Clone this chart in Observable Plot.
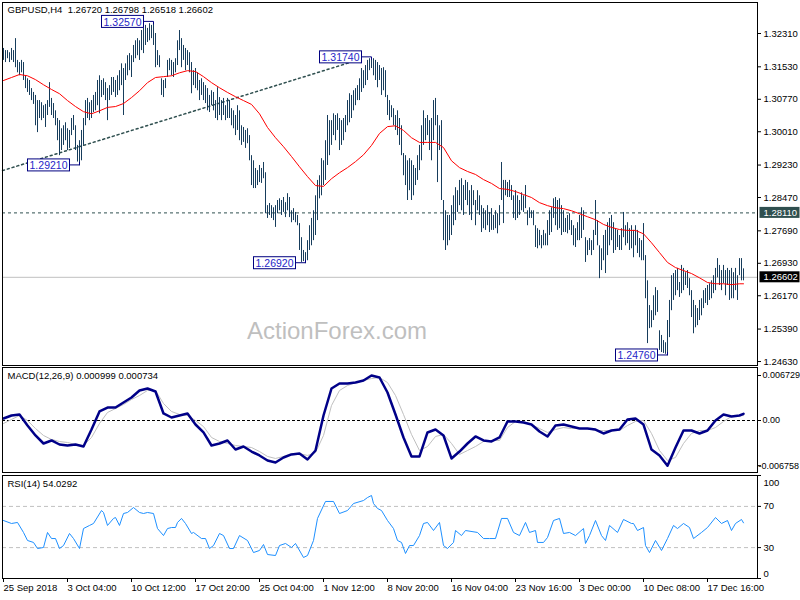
<!DOCTYPE html>
<html><head><meta charset="utf-8">
<script src="https://cdn.jsdelivr.net/npm/d3@7"></script>
<script src="https://cdn.jsdelivr.net/npm/@observablehq/plot@0.6"></script>
<style>
html,body{margin:0;padding:0;background:#fff;}
#chart{position:relative;width:800px;height:600px;overflow:hidden;background:#fff;}
#chart svg{position:absolute;left:0;}
</style></head><body><div id="chart"></div>
<script>
// ---------- DATA ----------
const barHigh = [1.3196,1.3191,1.3191,1.3186,1.3196,1.3191,1.3219,1.3168,1.3163,1.3168,
1.3163,1.3132,1.3125,1.3121,1.3102,1.3093,1.3086,1.3074,1.3074,1.3069,
1.3062,1.3065,1.3074,1.3116,1.3079,1.3067,1.3050,1.3032,1.3027,1.3008,
1.3015,1.3022,1.3008,1.3004,1.3032,1.3039,1.3015,1.2969,1.2980,1.3004,
1.3032,1.3074,1.3079,1.3069,1.3074,1.3086,1.3093,1.3121,1.3132,1.3121,
1.3125,1.3116,1.3102,1.3109,1.3128,1.3128,1.3121,1.3132,1.3144,1.3160,
1.3149,1.3160,1.3179,1.3184,1.3179,1.3203,1.3214,1.3219,1.3214,1.3238,
1.3243,1.3250,1.3243,1.3254,1.3250,1.3257,1.3231,1.3191,1.3179,1.3125,
1.3121,1.3125,1.3168,1.3172,1.3168,1.3163,1.3172,1.3214,1.3238,1.3219,
1.3203,1.3196,1.3191,1.3186,1.3163,1.3144,1.3149,1.3139,1.3121,1.3125,
1.3116,1.3109,1.3102,1.3086,1.3097,1.3093,1.3074,1.3104,1.3081,1.3074,
1.3079,1.3062,1.3079,1.3074,1.3055,1.3050,1.3039,1.3062,1.3050,1.3015,
1.3011,1.3004,1.3008,1.2992,1.2945,1.2933,1.2915,1.2910,1.2922,1.2915,
1.2929,1.2905,1.2828,1.2833,1.2828,1.2823,1.2828,1.2840,1.2844,1.2840,
1.2847,1.2835,1.2856,1.2847,1.2816,1.2821,1.2812,1.2805,1.2786,1.2753,
1.2723,1.2718,1.2746,1.2781,1.2798,1.2816,1.2851,1.2887,1.2898,1.2938,
1.2933,1.2980,1.3039,1.3027,1.3027,1.3043,1.3039,1.3043,1.3032,1.3027,
1.3032,1.3039,1.3074,1.3090,1.3086,1.3097,1.3102,1.3109,1.3125,1.3149,
1.3144,1.3156,1.3168,1.3172,1.3174,1.3172,1.3168,1.3163,1.3156,1.3149,
1.3151,1.3144,1.3086,1.3074,1.3062,1.3055,1.3039,1.3050,1.3032,1.3015,
1.2950,1.2945,1.2933,1.2938,1.2933,1.2922,1.2915,1.2945,1.2969,1.3015,
1.3050,1.3032,1.3039,1.3027,1.3032,1.3074,1.3079,1.3039,1.3015,1.3027,
1.2840,1.2816,1.2805,1.2805,1.2828,1.2851,1.2870,1.2863,1.2887,1.2891,
1.2875,1.2887,1.2882,1.2863,1.2875,1.2863,1.2840,1.2863,1.2851,1.2828,
1.2821,1.2816,1.2828,1.2812,1.2821,1.2805,1.2816,1.2809,1.2828,1.2929,
1.2887,1.2887,1.2882,1.2887,1.2875,1.2851,1.2863,1.2851,1.2840,1.2858,
1.2851,1.2875,1.2816,1.2823,1.2816,1.2816,1.2781,1.2774,1.2770,1.2758,
1.2770,1.2762,1.2793,1.2816,1.2823,1.2844,1.2847,1.2840,1.2844,1.2828,
1.2816,1.2798,1.2805,1.2809,1.2793,1.2781,1.2774,1.2788,1.2805,1.2823,
1.2816,1.2753,1.2746,1.2751,1.2746,1.2770,1.2840,1.2793,1.2734,1.2727,
1.2758,1.2770,1.2788,1.2798,1.2805,1.2788,1.2774,1.2770,1.2758,1.2774,
1.2812,1.2781,1.2788,1.2774,1.2781,1.2770,1.2781,1.2770,1.2751,1.2746,
1.2786,1.2711,1.2652,1.2594,1.2582,1.2617,1.2636,1.2629,1.2535,1.2524,
1.2512,1.2507,1.2559,1.2606,1.2664,1.2669,1.2676,1.2681,1.2648,1.2688,
1.2681,1.2671,1.2676,1.2657,1.2629,1.2606,1.2594,1.2587,1.2606,1.2610,
1.2629,1.2634,1.2641,1.2645,1.2652,1.2664,1.2681,1.2704,1.2688,1.2676,
1.2688,1.2676,1.2681,1.2676,1.2681,1.2671,1.2681,1.2664,1.2704,1.2704,1.2680];

const barLow = [1.3168,1.3163,1.3172,1.3163,1.3168,1.3163,1.3151,1.3139,1.3132,1.3139,
1.3121,1.3102,1.3093,1.3086,1.3074,1.3065,1.3015,1.2999,1.3032,1.3027,
1.3032,1.3011,1.3039,1.3058,1.3039,1.3032,1.3015,1.2980,1.2945,1.2957,
1.2969,1.2980,1.2957,1.2962,1.2992,1.3004,1.2957,1.2930,1.2921,1.2933,
1.2969,1.3015,1.3032,1.3027,1.3032,1.3046,1.3050,1.3062,1.3043,1.3081,
1.3086,1.3074,1.3027,1.3074,1.3086,1.3093,1.3081,1.3086,1.3097,1.3109,
1.3039,1.3121,1.3132,1.3144,1.3128,1.3163,1.3172,1.3179,1.3168,1.3191,
1.3184,1.3203,1.3210,1.3214,1.3219,1.3203,1.3151,1.3156,1.3151,1.3086,
1.3081,1.3102,1.3128,1.3144,1.3132,1.3128,1.3139,1.3156,1.3191,1.3151,
1.3168,1.3144,1.3156,1.3139,1.3090,1.3109,1.3102,1.3097,1.3074,1.3086,
1.3074,1.3067,1.3050,1.3046,1.3062,1.3050,1.3032,1.3027,1.3039,1.3027,
1.3039,1.3027,1.3032,1.3032,1.3015,1.3008,1.2992,1.3004,1.2980,1.2969,
1.2976,1.2962,1.2973,1.2933,1.2875,1.2868,1.2868,1.2875,1.2882,1.2880,
1.2891,1.2809,1.2798,1.2805,1.2798,1.2793,1.2777,1.2809,1.2816,1.2805,
1.2812,1.2800,1.2816,1.2800,1.2788,1.2793,1.2788,1.2781,1.2723,1.2695,
1.2697,1.2692,1.2699,1.2723,1.2734,1.2746,1.2758,1.2793,1.2844,1.2851,
1.2875,1.2887,1.2922,1.2945,1.2969,1.2992,1.2980,1.3004,1.2957,1.2969,
1.2980,1.2999,1.3015,1.3022,1.3032,1.3050,1.3062,1.3074,1.3074,1.3093,
1.3102,1.3109,1.3121,1.3144,1.3149,1.3132,1.3121,1.3104,1.3121,1.3086,
1.3097,1.3081,1.3039,1.3027,1.3034,1.3015,1.3004,1.2992,1.2969,1.2945,
1.2898,1.2875,1.2840,1.2863,1.2840,1.2851,1.2875,1.2887,1.2910,1.2933,
1.2969,1.2980,1.2992,1.2957,1.2933,1.2980,1.3015,1.2882,1.2957,1.2840,
1.2746,1.2723,1.2734,1.2746,1.2758,1.2781,1.2793,1.2812,1.2828,1.2816,
1.2805,1.2840,1.2828,1.2805,1.2793,1.2828,1.2781,1.2816,1.2805,1.2765,
1.2774,1.2770,1.2781,1.2765,1.2770,1.2770,1.2774,1.2762,1.2781,1.2840,
1.2786,1.2851,1.2847,1.2847,1.2840,1.2798,1.2793,1.2798,1.2805,1.2816,
1.2812,1.2821,1.2781,1.2798,1.2798,1.2781,1.2730,1.2727,1.2734,1.2727,
1.2734,1.2734,1.2734,1.2758,1.2765,1.2798,1.2781,1.2770,1.2774,1.2758,
1.2765,1.2765,1.2762,1.2770,1.2758,1.2734,1.2730,1.2746,1.2746,1.2751,
1.2770,1.2695,1.2711,1.2723,1.2711,1.2723,1.2758,1.2734,1.2657,1.2676,
1.2699,1.2669,1.2711,1.2734,1.2746,1.2716,1.2723,1.2730,1.2723,1.2723,
1.2753,1.2734,1.2739,1.2723,1.2727,1.2706,1.2734,1.2716,1.2706,1.2699,
1.2699,1.2610,1.2505,1.2540,1.2542,1.2559,1.2570,1.2578,1.2489,1.2484,
1.2482,1.2480,1.2476,1.2519,1.2582,1.2606,1.2617,1.2629,1.2613,1.2622,
1.2629,1.2641,1.2634,1.2617,1.2566,1.2528,1.2542,1.2547,1.2559,1.2570,
1.2587,1.2599,1.2594,1.2606,1.2610,1.2622,1.2629,1.2659,1.2641,1.2629,
1.2645,1.2617,1.2641,1.2606,1.2610,1.2610,1.2629,1.2606,1.2664,1.2652,1.2652];

// bar positions at which the indicator lines were read
const indBar = [0,4,8,12,16,20,24,28,32,36,40,44,48,52,56,60,64,68,72,76,80,84,88,92,96,100,104,108,112,116,
120,124,128,132,136,140,144,148,152,156,160,164,168,172,176,180,184,188,192,196,200,204,208,212,216,220,224,228,232,236,
240,244,248,252,256,260,264,268,272,276,280,284,288,292,296,300,304,308,312,316,320,324,328,332,336,340,344,348,352,356,
360,364,368,370];

const maVal = [1.3121,1.3128,1.3135,1.3132,1.3123,1.3111,1.3100,1.3090,1.3074,1.3060,
1.3048,1.3043,1.3050,1.3058,1.3060,1.3067,1.3081,1.3097,1.3116,1.3128,
1.3130,1.3132,1.3139,1.3144,1.3142,1.3130,1.3116,1.3104,1.3093,1.3083,
1.3074,1.3065,1.3043,1.3011,1.2987,1.2966,1.2943,1.2919,1.2896,1.2875,
1.2873,1.2891,1.2905,1.2917,1.2931,1.2947,1.2969,1.2997,1.3013,1.3015,
1.3004,1.2987,1.2976,1.2976,1.2976,1.2964,1.2933,1.2917,1.2908,1.2901,
1.2889,1.2880,1.2868,1.2866,1.2861,1.2854,1.2847,1.2835,1.2828,1.2823,
1.2821,1.2816,1.2809,1.2802,1.2795,1.2784,1.2777,1.2772,1.2770,1.2770,
1.2762,1.2741,1.2718,1.2695,1.2683,1.2676,1.2669,1.2659,1.2648,1.2645,
1.2645,1.2643,1.2645,1.2645];

const macdMain = [0.00030,0.00075,0.00090,-0.00075,-0.00224,-0.00344,-0.00299,-0.00359,-0.00374,-0.00359,
-0.00389,-0.00135,0.00135,0.00194,0.00194,0.00269,0.00344,0.00449,0.00479,0.00434,
0.00105,0.00045,0.00075,0.00105,-0.00060,-0.00179,-0.00374,-0.00344,-0.00299,-0.00434,
-0.00389,-0.00464,-0.00523,-0.00598,-0.00628,-0.00553,-0.00508,-0.00494,-0.00583,-0.00449,
0.00075,0.00479,0.00553,0.00553,0.00568,0.00598,0.00673,0.00643,0.00419,0.00090,
-0.00254,-0.00538,-0.00538,-0.00179,-0.00135,-0.00224,-0.00568,-0.00464,-0.00344,-0.00239,
-0.00299,-0.00314,-0.00254,-0.00015,-0.00015,-0.00030,-0.00060,-0.00164,-0.00239,-0.00075,
-0.00060,-0.00090,-0.00120,-0.00120,-0.00135,-0.00194,-0.00150,-0.00135,0.00015,0.00030,
-0.00060,-0.00434,-0.00523,-0.00676,-0.00404,-0.00150,-0.00150,-0.00194,-0.00150,0.00000,
0.00090,0.00060,0.00075,0.000999];

const macdSignal = [-0.00045,0.00015,0.00075,0.00000,-0.00120,-0.00224,-0.00284,-0.00314,-0.00329,-0.00359,
-0.00374,-0.00254,-0.00045,0.00120,0.00179,0.00239,0.00314,0.00374,0.00449,0.00449,
0.00254,0.00135,0.00090,0.00075,0.00000,-0.00090,-0.00254,-0.00314,-0.00344,-0.00374,
-0.00389,-0.00404,-0.00464,-0.00538,-0.00568,-0.00538,-0.00494,-0.00494,-0.00523,-0.00479,
-0.00224,0.00224,0.00449,0.00523,0.00568,0.00598,0.00628,0.00643,0.00568,0.00374,
0.00090,-0.00209,-0.00449,-0.00389,-0.00239,-0.00209,-0.00344,-0.00508,-0.00449,-0.00389,
-0.00314,-0.00299,-0.00299,-0.00105,-0.00015,-0.00015,-0.00060,-0.00120,-0.00179,-0.00135,
-0.00105,-0.00120,-0.00120,-0.00120,-0.00150,-0.00150,-0.00150,-0.00150,-0.00075,-0.00015,
0.00000,-0.00194,-0.00449,-0.00598,-0.00553,-0.00344,-0.00194,-0.00150,-0.00150,-0.00105,
-0.00015,0.00060,0.00075,0.000734];

const rsiBar = [0,4,7,10,12,15,17,20,22,24,26,28,30,33,35,38,40,43,45,49,50,52,55,56,58,60,62,65,68,70,
72,75,77,80,82,84,86,87,89,91,94,95,99,101,103,105,108,110,113,115,118,122,125,128,130,132,136,138,141,144,
146,150,152,155,157,161,165,168,172,175,180,182,184,185,187,189,192,195,197,199,201,203,205,208,210,212,215,218,220,222,
225,226,229,231,237,240,243,246,249,252,255,258,261,263,266,267,270,272,275,278,280,283,286,290,291,293,296,299,301,303,
307,310,314,315,317,320,321,323,326,329,332,335,337,340,343,345,349,352,356,359,362,364,366,369,370];
const rsiVal = [56.3,53.4,54.4,44.7,36.9,35.0,29.1,30.1,44.7,38.8,38.8,29.1,32.0,43.7,38.8,29.1,48.5,51.5,53.4,66.0,64.1,51.5,58.3,59.2,51.5,63.1,64.1,68.9,64.1,63.1,
64.1,63.1,48.5,41.7,48.5,49.5,49.5,54.4,58.3,53.4,43.7,44.7,38.8,38.8,29.1,32.0,43.7,41.7,29.1,29.1,41.7,36.9,25.2,27.2,33.0,23.3,22.3,32.0,34.0,30.1,
34.0,20.4,22.3,36.9,58.3,74.8,74.8,63.1,66.0,72.8,75.7,78.6,80.6,72.8,68.0,66.0,56.3,48.5,36.9,35.0,24.3,32.0,32.0,41.7,53.4,54.4,46.6,54.4,32.0,29.1,
35.0,46.6,41.7,46.6,44.7,38.8,38.8,38.8,58.3,58.3,44.7,41.7,54.4,44.7,46.6,35.0,35.0,39.8,56.3,58.3,43.7,44.7,41.7,48.5,34.0,41.7,56.3,41.7,36.9,51.5,
44.7,57.3,53.4,53.4,46.6,49.5,32.0,25.2,36.9,27.2,38.8,51.5,48.5,53.4,49.5,38.8,44.7,49.5,59.2,53.4,56.3,46.6,53.4,57.3,54.03];

const priceTicks = [1.3231,1.3153,1.3077,1.3001,1.2923,1.2847,1.2769,1.2693,1.2617,1.2539,1.2463];
const macdTicks = [0.006729, 0];
const macdTickLabels = ["0.006729", "0.00"];
const macdLow = -0.006758;
const macdLowLabel = "-0.006758";
const rsiLevels = [30, 70];
const dateTickBars = [0,32,64,96,128,160,192,224,256,288,320,352];
const dateTickLabels = ["25 Sep 2018","3 Oct 04:00","10 Oct 12:00","17 Oct 20:00","25 Oct 04:00","1 Nov 12:00","8 Nov 20:00","16 Nov 04:00","23 Nov 16:00","3 Dec 00:00","10 Dec 08:00","17 Dec 16:00"];

const swingBar = [75, 184, 38, 151, 332];
const swingPrice = [1.3257, 1.3174, 1.2921, 1.2692, 1.2476];
const swingText = ["1.32570","1.31740","1.29210","1.26920","1.24760"];
const swingSide = ["high","high","low","low","low"];

const trendBar = [-0.5, 174.5];
const trendPrice = [1.2910, 1.3165];
const levelPrice = 1.2811;
const lastPrice = 1.26602;
const titleText = "GBPUSD,H4  1.26720 1.26798 1.26518 1.26602";
const macdTitle = "MACD(12,26,9) 0.000999 0.000734";
const rsiTitle = "RSI(14) 54.0292";
const watermark = "ActionForex.com";

// ---------- BUILD ----------
const FONT = "'Liberation Sans', Arial, sans-serif";
const BAR = "#173d5c";
const bars = barHigh.map((h, i) => ({i, hi: h, lo: barLow[i]}));
const ma = indBar.map((b, k) => ({i: b, v: maVal[k]}));
const macd = indBar.map((b, k) => ({i: b, m: macdMain[k], s: macdSignal[k]}));
const rsi = rsiBar.map((b, k) => ({i: b, v: rsiVal[k]}));
const trend = trendBar.map((b, k) => ({i: b, v: trendPrice[k]}));
const swings = swingBar.map((b, k) => ({i: b, v: swingPrice[k], t: swingText[k]}));
const dateMap = new Map(dateTickBars.map((b, k) => [b, dateTickLabels[k]]));
const macdMap = new Map(macdTicks.map((v, k) => [v, macdTickLabels[k]]));

const xDomain = [-0.5, 377];
const common = {
  width: 800, marginLeft: 2, marginRight: 43,
  style: {fontFamily: FONT, fontSize: "9.5px", background: "transparent", color: "black", overflow: "visible"}
};

const pricePlot = Plot.plot({
  ...common, height: 366, marginTop: 2, marginBottom: 1,
  x: {domain: xDomain, axis: null},
  y: {domain: [1.24537, 1.33036]},
  marks: [
    Plot.ruleY([lastPrice], {stroke: "#c0c0c0"}),
    Plot.ruleY([levelPrice], {stroke: "#2f4f4f", strokeDasharray: "3,3"}),
    Plot.line(trend, {x: "i", y: "v", stroke: "#2f4f4f", strokeDasharray: "2,3"}),
    Plot.text([watermark], {frameAnchor: "bottom", dx: -43, dy: -34, lineAnchor: "middle", fill: "#bfbfbf", fontSize: 24}),
    Plot.ruleX(bars, {x: "i", y1: "lo", y2: "hi", stroke: BAR, strokeWidth: 1}),
    Plot.line(ma, {x: "i", y: "v", stroke: "#ff0000", strokeWidth: 1}),
    Plot.text(swings, {x: "i", y: "v", text: "t", textAnchor: "end", dx: -12, fill: "#1f1fc8", fontSize: 10.5}),
    Plot.frame({stroke: "black"}),
    Plot.axisY({anchor: "right", label: null, ticks: priceTicks, tickFormat: d => d.toFixed(5), tickSize: 3, tickPadding: 3}),
    Plot.text([levelPrice], {y: d => d, frameAnchor: "right", dx: 6, textAnchor: "start", text: d => d.toFixed(5), fill: "white"}),
    Plot.text([lastPrice], {y: d => d, frameAnchor: "right", dx: 6, textAnchor: "start", text: d => d.toFixed(5), fill: "white"}),
    Plot.text([titleText], {frameAnchor: "top-left", dx: 5, dy: 4, lineAnchor: "top", textAnchor: "start", fill: "black"})
  ]
});

const macdPlot = Plot.plot({
  ...common, height: 108, marginTop: 1, marginBottom: 2,
  x: {domain: xDomain, axis: null},
  y: {domain: [-0.00778, 0.00793]},
  marks: [
    Plot.ruleY([0], {stroke: "black", strokeDasharray: "3,2"}),
    Plot.line(macd, {x: "i", y: "s", stroke: "#c0c0c0", strokeWidth: 1}),
    Plot.line(macd, {x: "i", y: "m", stroke: "#000088", strokeWidth: 2.5}),
    Plot.frame({stroke: "black"}),
    Plot.axisY({anchor: "right", label: null, ticks: macdTicks, tickFormat: d => macdMap.get(d), tickSize: 3, tickPadding: 2, fontSize: 9}),
    Plot.axisY({anchor: "right", label: null, ticks: [macdLow], tickFormat: () => "", tickSize: 3}),
    Plot.text([macdLow], {y: d => d, frameAnchor: "right", dx: 1, textAnchor: "start", text: () => macdLowLabel, fill: "black", fontSize: 9}),
    Plot.text([macdTitle], {frameAnchor: "top-left", dx: 5, dy: 5, lineAnchor: "top", textAnchor: "start", fill: "black"})
  ]
});

const rsiPlot = Plot.plot({
  ...common, height: 126, marginTop: 1, marginBottom: 22,
  x: {domain: xDomain},
  y: {domain: [0, 100]},
  marks: [
    Plot.ruleY(rsiLevels, {stroke: "#c0c0c0", strokeDasharray: "4,3"}),
    Plot.line(rsi, {x: "i", y: "v", stroke: "#1e90ff", strokeWidth: 1}),
    Plot.frame({stroke: "black"}),
    Plot.axisY({anchor: "right", label: null, ticks: rsiLevels, tickSize: 3, tickPadding: 3}),
    Plot.axisY({anchor: "right", label: null, ticks: [0, 100], tickSize: 3, tickFormat: () => ""}),
    Plot.text([100], {y: d => d, frameAnchor: "right", dx: 6, dy: 7, textAnchor: "start", text: d => String(d), fill: "black"}),
    Plot.text([0], {y: d => d, frameAnchor: "right", dx: 6, dy: -5, textAnchor: "start", text: d => String(d), fill: "black"}),
    Plot.axisX({anchor: "bottom", label: null, ticks: dateTickBars, tickFormat: d => dateMap.get(d), tickSize: 4, tickPadding: 2, textAnchor: "start"}),
    Plot.text([rsiTitle], {frameAnchor: "top-left", dx: 5, dy: 5, lineAnchor: "top", textAnchor: "start", fill: "black"})
  ]
});

const root = document.getElementById("chart");
[[pricePlot, 0], [macdPlot, 366], [rsiPlot, 474]].forEach(([svg, top]) => {
  svg.style.top = top + "px";
  root.appendChild(svg);
});

// ---------- label boxes ----------
const NS = "http://www.w3.org/2000/svg";
function el(name, attrs) {
  const e = document.createElementNS(NS, name);
  for (const k in attrs) e.setAttribute(k, attrs[k]);
  return e;
}
const sideOf = new Map(swingText.map((t, k) => [t, swingSide[k]]));
const hiLabels = new Map([[levelPrice.toFixed(5), "#2f4f4f"], [lastPrice.toFixed(5), "#000000"]]);
for (const t of pricePlot.querySelectorAll("text")) {
  const s = t.textContent;
  const tr = t.getAttribute("transform");
  if (sideOf.has(s)) {
    const b = t.getBBox();
    const x0 = Math.round(b.x) - 2, x1 = Math.round(b.x + b.width) + 2;
    const cy = Math.round(b.y + b.height / 2);
    const y0 = cy - 6;
    const g = el("g", tr ? {transform: tr} : {});
    g.appendChild(el("rect", {x: x0, y: y0, width: x1 - x0, height: 12, fill: "white", stroke: "#000080", "stroke-width": 1}));
    const vy = sideOf.get(s) === "high" ? cy + 3 : cy - 3;
    g.appendChild(el("path", {d: `M${x1},${cy}H${x1 + 10}V${vy}`, fill: "none", stroke: "#000080", "stroke-width": 1}));
    t.parentNode.insertBefore(g, t);
  } else if (hiLabels.has(s)) {
    const b = t.getBBox();
    const r = el("rect", {x: Math.round(b.x) - 4, y: Math.round(b.y) , width: Math.round(b.width) + 6, height: Math.round(b.height), fill: hiLabels.get(s)});
    if (tr) r.setAttribute("transform", tr);
    t.parentNode.insertBefore(r, t);
  }
}
</script></body></html>
